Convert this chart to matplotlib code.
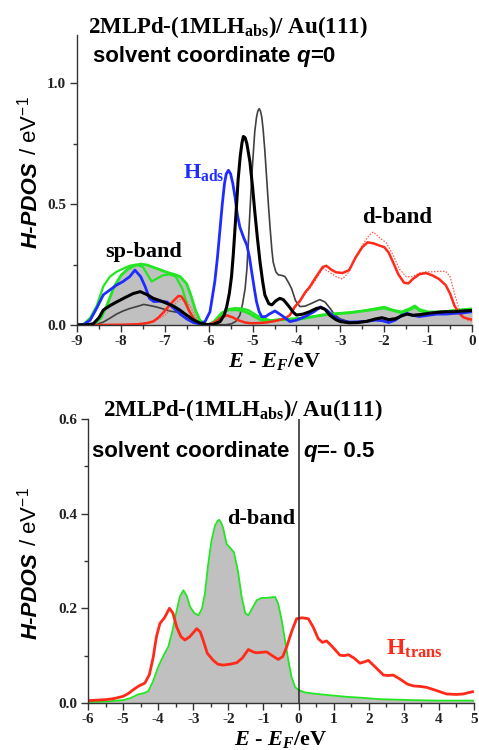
import numpy as np
import matplotlib
matplotlib.use('Agg')
import matplotlib.pyplot as plt
from matplotlib.ticker import MultipleLocator, FormatStrFormatter

# ---- H-PDOS, q = 0 (upper panel) ----
# thick green (grey filled total)
e_gr = [-9, -8.8, -8.6, -8.45, -8.3, -8.15, -8.0, -7.85, -7.7, -7.55, -7.4, -7.25, -7.1,
        -6.95, -6.8, -6.65, -6.5, -6.4, -6.3, -6.2, -6.1, -6.0, -5.9, -5.8, -5.7, -5.55,
        -5.4, -5.25, -5.1, -4.95, -4.8, -4.6, -4.4, -4.2, -4.0, -3.8, -3.6, -3.4, -3.2,
        -3.0, -2.8, -2.6, -2.4, -2.2, -2.0, -1.8, -1.6, -1.4, -1.3, -1.2, -1.0, -0.8,
        -0.6, -0.4, -0.2, 0]
d_gr = [0, 0, 0.004, 0.03, 0.09, 0.16, 0.205, 0.23, 0.245, 0.252, 0.248, 0.238, 0.228,
        0.218, 0.21, 0.2, 0.17, 0.12, 0.06, 0.02, 0.005, 0.002, 0.01, 0.03, 0.05, 0.062,
        0.063, 0.06, 0.05, 0.034, 0.02, 0.015, 0.022, 0.022, 0.022, 0.028, 0.035, 0.042,
        0.045, 0.048, 0.05, 0.055, 0.06, 0.065, 0.07, 0.06, 0.05, 0.065, 0.075, 0.06,
        0.05, 0.05, 0.055, 0.06, 0.062, 0.065]

# thin green
e_gr2 = [-9, -8.85, -8.7, -8.55, -8.4, -8.25, -8.1, -7.95, -7.8, -7.65, -7.5, -7.4, -7.3,
         -7.2, -7.05, -6.9, -6.75, -6.6, -6.45, -6.3, -6.15, -6.0, -5.85, -5.7, -5.55,
         -5.4, -5.25, -5.1, -4.95, -4.8, -4.6, -4.4, -4.2, -4.0, -3.7, -3.4, -3.1, -2.8,
         -2.5, -2.2, -2.0, -1.8, -1.6, -1.4, -1.3, -1.2, -1.0, -0.7, -0.4, 0]
d_gr2 = [0, 0.003, 0.03, 0.08, 0.16, 0.2, 0.22, 0.233, 0.245, 0.25, 0.24, 0.21, 0.18,
         0.19, 0.205, 0.21, 0.2, 0.15, 0.06, 0.02, 0.005, 0.003, 0.015, 0.04, 0.065,
         0.07, 0.068, 0.062, 0.045, 0.03, 0.02, 0.022, 0.025, 0.028, 0.033, 0.04, 0.047,
         0.052, 0.058, 0.068, 0.075, 0.062, 0.055, 0.07, 0.08, 0.065, 0.055, 0.055, 0.06,
         0.068]

# H_ads (blue)
e_bl = [-9, -8.85, -8.7, -8.55, -8.4, -8.25, -8.1, -7.95, -7.8, -7.68, -7.55, -7.45, -7.35,
        -7.25, -7.1, -6.95, -6.8, -6.65, -6.5, -6.35, -6.2, -6.08, -5.97, -5.86, -5.8,
        -5.74, -5.69, -5.64, -5.6, -5.55, -5.5, -5.45, -5.4, -5.35, -5.29, -5.2, -5.13,
        -5.07, -5.02, -4.96, -4.91, -4.85, -4.79, -4.7, -4.62, -4.49, -4.34, -4.15, -4.0,
        -3.8, -3.6, -3.45, -3.3, -3.15, -3.0, -2.8, -2.6, -2.4, -2.2, -2.05, -1.9, -1.75,
        -1.6, -1.48, -1.35, -1.2, -1.0, -0.8, -0.6, -0.4, -0.2, 0]
d_bl = [0, 0.002, 0.02, 0.07, 0.125, 0.145, 0.165, 0.18, 0.2, 0.227, 0.2, 0.16, 0.11,
        0.097, 0.098, 0.095, 0.07, 0.045, 0.025, 0.01, 0.004, 0.015, 0.055, 0.18, 0.28,
        0.40, 0.5, 0.585, 0.625, 0.64, 0.625, 0.585, 0.53, 0.46, 0.405, 0.36, 0.33,
        0.28, 0.22, 0.15, 0.096, 0.055, 0.034, 0.035, 0.045, 0.058, 0.04, 0.014, 0.02,
        0.035, 0.055, 0.075, 0.06, 0.035, 0.018, 0.012, 0.013, 0.015, 0.02, 0.018, 0.01,
        0.02, 0.04, 0.048, 0.04, 0.035, 0.04, 0.045, 0.045, 0.048, 0.05, 0.055]

# black thick
e_bk = [-9, -8.8, -8.63, -8.5, -8.4, -8.25, -8.1, -7.9, -7.72, -7.56, -7.4, -7.26, -7.1,
        -6.96, -6.8, -6.66, -6.5, -6.35, -6.2, -6.05, -5.9, -5.74, -5.65, -5.59, -5.53,
        -5.48, -5.44, -5.4, -5.36, -5.33, -5.28, -5.24, -5.21, -5.17, -5.13, -5.06, -5.0,
        -4.95, -4.89, -4.83, -4.77, -4.72, -4.63, -4.56, -4.47, -4.38, -4.3, -4.23, -4.15,
        -4.07, -4.0, -3.85, -3.7, -3.55, -3.45, -3.35, -3.24, -3.1, -3.0, -2.8, -2.6, -2.4,
        -2.2, -2.05, -1.9, -1.75, -1.6, -1.48, -1.35, -1.2, -1.0, -0.8, -0.6, -0.4, -0.2, 0]
d_bk = [0, 0, 0.005, 0.03, 0.062, 0.08, 0.095, 0.114, 0.13, 0.138, 0.125, 0.11, 0.1,
        0.09, 0.078, 0.062, 0.04, 0.021, 0.008, 0.002, 0.002, 0.014, 0.04, 0.075, 0.13,
        0.2, 0.29, 0.4, 0.51, 0.6, 0.7, 0.755, 0.78, 0.775, 0.75, 0.675, 0.57, 0.47,
        0.36, 0.26, 0.18, 0.124, 0.088, 0.083, 0.1, 0.11, 0.105, 0.09, 0.072, 0.052,
        0.041, 0.045, 0.055, 0.068, 0.072, 0.065, 0.04, 0.022, 0.014, 0.009, 0.01, 0.015,
        0.025, 0.03, 0.022, 0.025, 0.038, 0.045, 0.04, 0.042, 0.048, 0.052, 0.055, 0.055,
        0.058, 0.06]

# black thin
e_bk2 = [-9, -8.6, -8.4, -8.25, -8.1, -7.95, -7.8, -7.64, -7.48, -7.33, -7.18, -7.03, -6.89,
         -6.74, -6.58, -6.43, -6.28, -6.15, -6.0, -5.6, -5.48, -5.38, -5.29, -5.23, -5.17,
         -5.13, -5.1, -5.06, -5.02, -4.98, -4.95, -4.91, -4.88, -4.85, -4.82, -4.79, -4.76,
         -4.72, -4.68, -4.64, -4.6, -4.56, -4.53, -4.47, -4.41, -4.33, -4.26, -4.18, -4.11,
         -4.02, -3.92, -3.8, -3.65, -3.47, -3.35, -3.24, -3.12, -3.0, -2.8, -2.6, -2.4,
         -2.2, -2.05, -1.9, -1.75, -1.6, -1.48, -1.35, -1.2, -1.0, -0.8, -0.6, -0.4, -0.2, 0]
d_bk2 = [0, 0, 0.012, 0.028, 0.045, 0.058, 0.068, 0.076, 0.085, 0.08, 0.074, 0.066, 0.058,
         0.053, 0.05, 0.035, 0.014, 0.004, 0.001, 0.001, 0.005, 0.015, 0.04, 0.085, 0.15,
         0.23, 0.33, 0.47, 0.61, 0.72, 0.8, 0.86, 0.885, 0.895, 0.885, 0.86, 0.81, 0.72,
         0.61, 0.5, 0.40, 0.31, 0.26, 0.22, 0.207, 0.205, 0.2, 0.175, 0.15, 0.1, 0.076,
         0.078, 0.09, 0.105, 0.095, 0.07, 0.04, 0.025, 0.013, 0.013, 0.016, 0.025, 0.03,
         0.025, 0.028, 0.04, 0.045, 0.042, 0.045, 0.05, 0.055, 0.058, 0.058, 0.06, 0.062]

# red thick
e_rd = [-9, -8.5, -8.0, -7.6, -7.4, -7.26, -7.15, -7.03, -6.9, -6.8, -6.69, -6.62, -6.54,
        -6.45, -6.35, -6.25, -6.12, -6.0, -5.85, -5.72, -5.59, -5.46, -5.33, -5.17, -5.02,
        -4.85, -4.7, -4.56, -4.4, -4.25, -4.15, -4.04, -3.92, -3.8, -3.7, -3.55, -3.4,
        -3.32, -3.2, -3.1, -2.95, -2.8, -2.65, -2.5, -2.38, -2.25, -2.1, -2.0, -1.9, -1.8,
        -1.68, -1.55, -1.45, -1.35, -1.2, -1.05, -0.9, -0.75, -0.6, -0.5, -0.4, -0.3, -0.2,
        -0.1, 0]
d_rd = [0, 0, 0.001, 0.003, 0.008, 0.015, 0.03, 0.052, 0.08, 0.1, 0.12, 0.118, 0.095,
        0.06, 0.028, 0.01, 0.002, 0.002, 0.012, 0.03, 0.04, 0.032, 0.02, 0.01, 0.007,
        0.008, 0.01, 0.014, 0.02, 0.028, 0.041, 0.075, 0.1, 0.135, 0.157, 0.2, 0.24,
        0.245, 0.228, 0.218, 0.215, 0.227, 0.28, 0.322, 0.342, 0.338, 0.328, 0.322, 0.3,
        0.26, 0.21, 0.175, 0.172, 0.19, 0.21, 0.215, 0.205, 0.19, 0.165, 0.13, 0.08,
        0.05, 0.032, 0.026, 0.022]

# red dotted
e_rd2 = [-9, -8.0, -7.3, -7.0, -6.85, -6.7, -6.6, -6.5, -6.4, -6.3, -6.2, -6.1, -6.0, -5.85,
         -5.72, -5.59, -5.46, -5.33, -5.17, -5.02, -4.85, -4.7, -4.56, -4.4, -4.25, -4.15,
         -4.04, -3.92, -3.8, -3.7, -3.55, -3.4, -3.3, -3.1, -2.95, -2.8, -2.65, -2.5, -2.35,
         -2.25, -2.1, -1.95, -1.8, -1.65, -1.5, -1.35, -1.2, -1.05, -0.9, -0.75, -0.6, -0.5,
         -0.4, -0.3, -0.2, -0.1, 0]
d_rd2 = [0, 0.001, 0.01, 0.04, 0.07, 0.1, 0.11, 0.1, 0.07, 0.035, 0.012, 0.003, 0.002,
         0.012, 0.028, 0.036, 0.03, 0.02, 0.01, 0.007, 0.008, 0.01, 0.014, 0.02, 0.028,
         0.04, 0.07, 0.095, 0.13, 0.15, 0.19, 0.235, 0.225, 0.2, 0.19, 0.22, 0.28, 0.33,
         0.37, 0.385, 0.36, 0.34, 0.29, 0.23, 0.2, 0.2, 0.215, 0.22, 0.22, 0.222, 0.222,
         0.2, 0.13, 0.07, 0.035, 0.02, 0.015]

# ---- H-PDOS, q = -0.5 (lower panel) ----
e_d = [-6, -5.5, -5.0, -4.8, -4.57, -4.4, -4.28, -4.15, -4.0, -3.85, -3.71, -3.6, -3.47,
       -3.38, -3.28, -3.18, -3.09, -2.97, -2.85, -2.75, -2.67, -2.58, -2.48, -2.38, -2.3,
       -2.26, -2.2, -2.15, -2.05, -1.95, -1.84, -1.73, -1.62, -1.52, -1.43, -1.32, -1.19,
       -1.05, -0.91, -0.79, -0.67, -0.58, -0.48, -0.38, -0.29, -0.2, -0.1, 0.0, 0.2, 0.42,
       0.8, 1.37, 1.8, 2.32, 2.8, 3.26, 4.0, 5.0]
d_d = [0.002, 0.003, 0.006, 0.01, 0.018, 0.021, 0.025, 0.045, 0.076, 0.1, 0.119, 0.15,
       0.196, 0.225, 0.238, 0.225, 0.203, 0.19, 0.185, 0.2, 0.23, 0.29, 0.343, 0.375,
       0.385, 0.387, 0.38, 0.37, 0.336, 0.328, 0.318, 0.28, 0.224, 0.19, 0.185, 0.2, 0.217,
       0.222, 0.222, 0.223, 0.224, 0.21, 0.175, 0.13, 0.09, 0.055, 0.034, 0.027, 0.022,
       0.02, 0.017, 0.013, 0.011, 0.008, 0.007, 0.006, 0.005, 0.005]

e_tr = [-6, -5.5, -5.28, -5.0, -4.85, -4.71, -4.55, -4.38, -4.25, -4.14, -4.05, -3.95, -3.82,
        -3.68, -3.58, -3.47, -3.35, -3.24, -3.1, -2.9, -2.8, -2.72, -2.6, -2.43, -2.3,
        -2.15, -1.95, -1.76, -1.6, -1.43, -1.3, -1.19, -1.05, -0.91, -0.75, -0.58, -0.45,
        -0.34, -0.2, -0.055, 0.1, 0.28, 0.42, 0.56, 0.68, 0.8, 0.95, 1.18, 1.3, 1.42, 1.58,
        1.75, 1.88, 1.99, 2.2, 2.42, 2.55, 2.7, 2.9, 3.1, 3.27, 3.45, 3.65, 3.9, 4.22, 4.5,
        4.7, 4.85, 4.98]
d_tr = [0.005, 0.007, 0.009, 0.014, 0.02, 0.028, 0.036, 0.042, 0.06, 0.097, 0.14, 0.168,
        0.18, 0.2, 0.19, 0.16, 0.14, 0.133, 0.14, 0.157, 0.15, 0.133, 0.105, 0.09, 0.082,
        0.08, 0.082, 0.085, 0.095, 0.113, 0.108, 0.106, 0.107, 0.108, 0.1, 0.092, 0.098,
        0.118, 0.15, 0.178, 0.18, 0.178, 0.16, 0.136, 0.128, 0.131, 0.12, 0.101, 0.1,
        0.102, 0.095, 0.084, 0.087, 0.09, 0.075, 0.059, 0.058, 0.059, 0.05, 0.04, 0.036,
        0.035, 0.033, 0.027, 0.019, 0.018, 0.019, 0.022, 0.024]

plt.rcParams['axes.unicode_minus'] = False
plt.rcParams['mathtext.fontset'] = 'custom'
plt.rcParams['mathtext.rm'] = 'Liberation Sans'
plt.rcParams['mathtext.it'] = 'Liberation Serif:italic:bold'
plt.rcParams['mathtext.bf'] = 'Liberation Serif:bold'
plt.rcParams['lines.solid_joinstyle'] = 'round'
plt.rcParams['lines.solid_capstyle'] = 'round'

SERIF = 'Liberation Serif'
SANS = 'Liberation Sans'
GREEN = '#22e622'
RED = '#ff2a1a'
BLUE = '#1f2cff'
FILL = '#c0c0c0'

fig = plt.figure(figsize=(4.79, 7.5), dpi=100)
ax1 = fig.add_axes([0.1608, 0.5667, 0.8246, 0.3867])
ax2 = fig.add_axes([0.1837, 0.0627, 0.8058, 0.3787])


def style_axes(ax):
    for s in ['top', 'right']:
        ax.spines[s].set_visible(False)
    for s in ['left', 'bottom']:
        ax.spines[s].set_linewidth(1.0)
        ax.spines[s].set_color('#333333')
    ax.tick_params(which='major', direction='out', length=5, width=1, color='#333333',
                   labelsize=11)
    ax.tick_params(which='minor', direction='out', length=3, width=1, color='#333333')
    ax.tick_params(axis='x', pad=2)
    ax.tick_params(axis='y', pad=3)
    for lab in ax.get_xticklabels() + ax.get_yticklabels():
        lab.set_family(SERIF)
        lab.set_weight('bold')
        lab.set_color('#222222')


# upper panel
ax1.fill_between(e_gr, d_gr, 0, color=FILL, lw=0)
ax1.plot(e_bk2, d_bk2, color='#404040', lw=1.2)
ax1.plot(e_rd2, d_rd2, color='#ff5a50', lw=0.9, ls=(0, (1.2, 1.2)))
ax1.plot(e_gr2, d_gr2, color=GREEN, lw=1.6)
ax1.plot(e_gr, d_gr, color=GREEN, lw=2.0)
ax1.plot(e_rd, d_rd, color=RED, lw=1.8)
ax1.plot(e_bl, d_bl, color=BLUE, lw=2.0)
ax1.plot(e_bk, d_bk, color='black', lw=2.2)
ax1.set_xlim(-9, 0)
ax1.set_ylim(0, 1.2)
ax1.xaxis.set_major_locator(MultipleLocator(1))
ax1.xaxis.set_minor_locator(MultipleLocator(0.5))
ax1.yaxis.set_major_locator(MultipleLocator(0.5))
ax1.yaxis.set_minor_locator(MultipleLocator(0.25))
ax1.xaxis.set_major_formatter(FormatStrFormatter('%d'))
ax1.yaxis.set_major_formatter(FormatStrFormatter('%.1f'))
style_axes(ax1)

ax1.text(-8.75, 1.207, '2MLPd-(1MLH$_{\\mathbf{abs}}$)/ Au(111)', family=SERIF,
         weight='bold', fontsize=16.5, clip_on=False)
t_sc = ax1.text(-8.64, 1.09, 'solvent coordinate ', family=SANS, weight='bold',
                fontsize=16)
t_q0 = ax1.annotate('q', xy=(1, 0), xycoords=t_sc, va='bottom', ha='left', family=SANS,
                    weight='bold', style='italic', fontsize=16)
ax1.annotate('=0', xy=(1, 0), xycoords=t_q0, va='bottom', ha='left',
             family=SANS, weight='bold', fontsize=16)
ax1.text(-6.59, 0.61, 'H$_{\\mathbf{ads}}$', color=BLUE, family=SERIF, weight='bold',
         fontsize=16)
ax1.text(-8.36, 0.28, 'sp-band', family=SERIF, weight='bold', fontsize=16)
ax1.text(-2.51, 0.42, 'd-band', family=SERIF, weight='bold', fontsize=16.5)

# lower panel
ax2.fill_between(e_d, d_d, 0, color=FILL, lw=0)
ax2.plot(e_d, d_d, color=GREEN, lw=1.3)
ax2.plot(e_tr, d_tr, color=RED, lw=2.0)
ax2.axvline(0, color='#333333', lw=1.2)
ax2.set_xlim(-6, 5)
ax2.set_ylim(0, 0.6)
ax2.xaxis.set_major_locator(MultipleLocator(1))
ax2.xaxis.set_minor_locator(MultipleLocator(0.5))
ax2.yaxis.set_major_locator(MultipleLocator(0.2))
ax2.yaxis.set_minor_locator(MultipleLocator(0.1))
ax2.xaxis.set_major_formatter(FormatStrFormatter('%d'))
ax2.yaxis.set_major_formatter(FormatStrFormatter('%.1f'))
style_axes(ax2)

ax2.text(-5.57, 0.606, '2MLPd-(1MLH$_{\\mathbf{abs}}$)/ Au(111)', family=SERIF,
         weight='bold', fontsize=16.5, clip_on=False)
ax2.text(-5.89, 0.52, 'solvent coordinate', family=SANS, weight='bold', fontsize=16)
t_q = ax2.text(0.13, 0.52, 'q', family=SANS, weight='bold', style='italic', fontsize=16)
ax2.annotate('=- 0.5', xy=(1, 0), xycoords=t_q, va='bottom', ha='left', family=SANS,
             weight='bold', fontsize=16)
ax2.text(-2.04, 0.379, 'd-band', family=SERIF, weight='bold', fontsize=16)
ax2.text(2.49, 0.101, 'H$_{\\mathbf{trans}}$', color=RED, family=SERIF, weight='bold',
         fontsize=17)

# y titles: italic quantity followed by upright unit
fig.canvas.draw()
for yc in [175, 566]:
    x_base = 37
    y_start = 750 - yc - 73
    p1 = fig.text(x_base / 479, y_start / 750, 'H-PDOS', rotation=90, rotation_mode='anchor',
                  ha='left', va='baseline', family=SANS, style='italic', weight='bold',
                  fontsize=16)
    fig.canvas.draw()
    bb = p1.get_window_extent()
    fig.text(x_base / 479, bb.y1 / 750, ' / eV$^{-1}$', rotation=90, rotation_mode='anchor',
             ha='left', va='baseline', family=SANS, fontsize=16)

# x titles
fig.text(275 / 479, 1 - 367 / 750, '$E$ - $E_F$/eV', ha='center', va='baseline',
         family=SERIF, weight='bold', fontsize=16)
fig.text(281 / 479, 1 - 745 / 750, '$E$ - $E_F$/eV', ha='center', va='baseline',
         family=SERIF, weight='bold', fontsize=16)

fig.savefig('out.png', dpi=100)
